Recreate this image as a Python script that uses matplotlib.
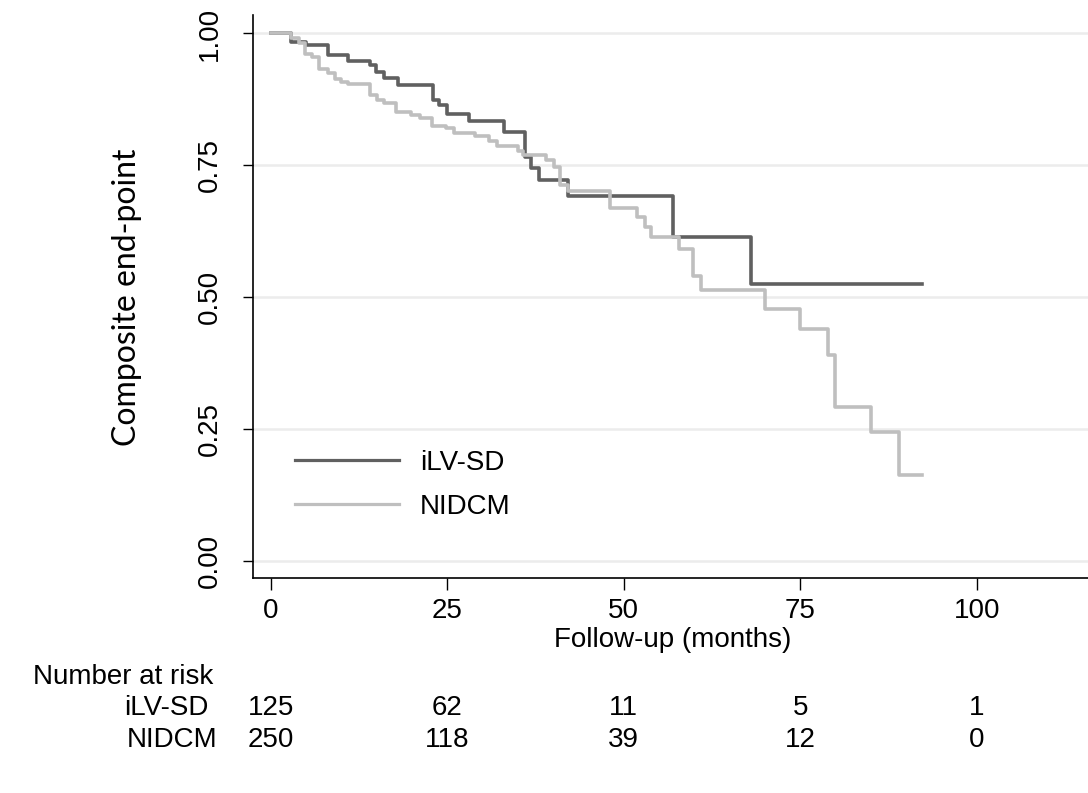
import matplotlib.pyplot as plt
import matplotlib.transforms as mtransforms

#%% data

t_ilv = [0, 2.9, 5.0, 8.1, 11.0, 14.0, 14.9, 16.0, 18.0, 23.0, 23.9, 24.9, 28.1,
         33.0, 36.0, 36.9, 38.0, 42.1, 57.0, 68.0, 92.2]
s_ilv = [1.0, 0.984, 0.978, 0.959, 0.948, 0.940, 0.927, 0.915, 0.902, 0.874, 0.864,
         0.848, 0.834, 0.813, 0.766, 0.745, 0.722, 0.692, 0.614, 0.526, 0.526]

t_nid = [0, 2.9, 4.0, 4.8, 5.8, 6.9, 8.1, 9.1, 10.0, 11.0, 14.0, 15.0, 16.0, 17.8,
         19.9, 21.1, 22.9, 24.8, 25.9, 28.9, 30.9, 32.0, 35.0, 35.8, 39.0, 40.1,
         41.0, 42.1, 48.0, 51.9, 53.0, 53.9, 57.8, 59.8, 61.0, 70.0, 74.9, 78.9,
         79.9, 85.0, 89.0, 92.2]
s_nid = [1.0, 0.992, 0.981, 0.962, 0.955, 0.932, 0.925, 0.913, 0.908, 0.905, 0.883,
         0.874, 0.869, 0.852, 0.845, 0.839, 0.824, 0.820, 0.811, 0.805, 0.796, 0.787,
         0.778, 0.770, 0.760, 0.747, 0.713, 0.702, 0.670, 0.653, 0.634, 0.615, 0.591,
         0.541, 0.513, 0.478, 0.439, 0.391, 0.293, 0.244, 0.163, 0.163]

groups = ["iLV-SD", "NIDCM"]
risk_times = [0, 25, 50, 75, 100]
risk_ilv = [125, 62, 11, 5, 1]
risk_nid = [250, 118, 39, 12, 0]

xticks = [0, 25, 50, 75, 100]
yticks = [0.0, 0.25, 0.5, 0.75, 1.0]

#%% plot
plt.rcParams['font.family'] = ['Liberation Sans', 'DejaVu Sans']

W, H = 1088, 793
fig = plt.figure(figsize=(W / 100, H / 100), dpi=100)
ax = fig.add_axes([253 / W, 1 - 578 / H, (W - 253) / W + 0.005, (578 - 15) / H])

dark = '#606060'
light = '#bfbfbf'

for y in yticks:
    ax.axhline(y, color='#ececec', lw=1.8, zorder=0)

ax.step(t_ilv, s_ilv, where='post', color=dark, lw=2.6, label=groups[0])
ax.step(t_nid, s_nid, where='post', color=light, lw=2.6, label=groups[1])

ax.set_xlim(-2.5, 116.5)
ax.set_ylim(-0.032, 1.035)
ax.set_xticks(xticks)
ax.set_yticks(yticks)
ax.set_yticklabels(['%.2f' % y for y in yticks], rotation=90, va='center')
ax.tick_params(axis='y', length=7, width=1, pad=15, labelsize=20)
ax.tick_params(axis='x', length=8.5, width=1, pad=6, labelsize=20)
for side in ['top', 'right']:
    ax.spines[side].set_visible(False)
ax.spines['left'].set_linewidth(1.2)
ax.spines['bottom'].set_linewidth(1.2)

leg = ax.legend(loc='upper left', bbox_to_anchor=(295 / W, 1 - 450 / H),
                bbox_transform=fig.transFigure, frameon=False, fontsize=20,
                handlelength=3.75, handletextpad=0.75, labelspacing=0.63,
                borderpad=0, borderaxespad=0)
for h in leg.get_lines():
    h.set_linewidth(2.3)

fig.text(127 / W, 1 - 297 / H, 'Composite end-point', rotation=90,
         ha='center', va='center', fontsize=23, family=['Lato', 'DejaVu Sans'])
fig.text(673 / W, 1 - 640 / H, 'Follow-up (months)', ha='center', va='center',
         fontsize=20)

# number at risk table
fig.text(33 / W, 1 - 677 / H, 'Number at risk', ha='left', va='center', fontsize=20)
fig.text(209 / W, 1 - 708 / H, groups[0], ha='right', va='center', fontsize=20)
fig.text(217 / W, 1 - 740 / H, groups[1], ha='right', va='center', fontsize=20)
trans = mtransforms.blended_transform_factory(ax.transData, fig.transFigure)
for xt, a, b in zip(risk_times, risk_ilv, risk_nid):
    ax.text(xt, 1 - 708 / H, str(a), transform=trans, ha='center', va='center', fontsize=20)
    ax.text(xt, 1 - 740 / H, str(b), transform=trans, ha='center', va='center', fontsize=20)

fig.savefig('out.png', dpi=100)
